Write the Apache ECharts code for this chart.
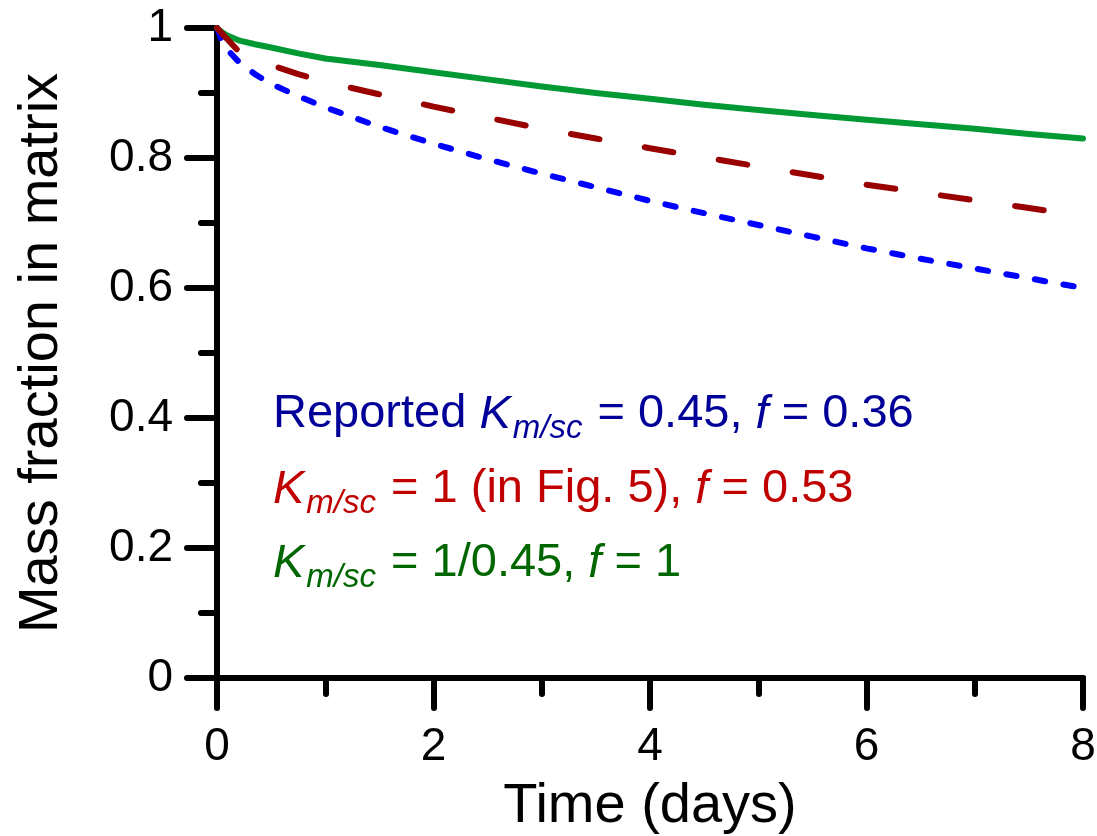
<!DOCTYPE html>
<html>
<head>
<meta charset="utf-8">
<script src="https://cdn.jsdelivr.net/npm/echarts@6/dist/echarts.min.js"></script>
<style>
html,body{margin:0;padding:0;background:#fff;}
#chart{width:1097px;height:836px;}
</style>
</head>
<body>
<div id="chart"></div>
<script>
// ---- data ----
const timeDays = [0, 0.05, 0.1, 0.2, 0.35, 0.5, 0.75, 1, 1.5, 2, 2.5, 3, 3.5, 4, 4.5, 5, 5.5, 6, 6.5, 7, 7.5, 8];
const reportedVals = [1.0, 0.978, 0.966, 0.948, 0.929, 0.914, 0.895, 0.878, 0.848, 0.822, 0.798, 0.776, 0.755, 0.734, 0.715, 0.697, 0.679, 0.661, 0.645, 0.630, 0.615, 0.600];
const fig5Vals = [1.0, 0.991, 0.982, 0.964, 0.952, 0.943, 0.929, 0.917, 0.898, 0.879, 0.862, 0.845, 0.830, 0.815, 0.801, 0.787, 0.773, 0.759, 0.747, 0.735, 0.723, 0.711];
const invVals = [1.0, 0.993, 0.988, 0.981, 0.975, 0.970, 0.961, 0.953, 0.943, 0.932, 0.921, 0.910, 0.900, 0.891, 0.882, 0.874, 0.866, 0.859, 0.852, 0.845, 0.837, 0.830];
const xTicks = [0, 2, 4, 6, 8];
const yTicks = [0, 0.2, 0.4, 0.6, 0.8, 1];
const xTitle = 'Time (days)';
const yTitle = 'Mass fraction in matrix';

const pairs = (xs, ys) => xs.map((x, i) => [x, ys[i]]);
const FONT = '"Liberation Sans", Arial, sans-serif';

const chart = echarts.init(document.getElementById('chart'), null, {renderer: 'canvas'});

const richStyle = (color) => ({
  n: {fontSize: 47, lineHeight: 47, verticalAlign: 'top', fill: color, color: color, fontFamily: FONT},
  i: {fontSize: 47, lineHeight: 47, verticalAlign: 'top', fill: color, color: color, fontFamily: FONT, fontStyle: 'italic'},
  s: {fontSize: 33, lineHeight: 33, verticalAlign: 'top', padding: [21, 2, 0, 2], fill: color, color: color, fontFamily: FONT, fontStyle: 'italic'}
});
const legendText = (text, color, top) => ({
  type: 'text', left: 273, top: top, z: 10,
  style: {text: text, fill: color, rich: richStyle(color), fontFamily: FONT, fontSize: 47}
});

const option = {
  animation: false,
  backgroundColor: '#fff',
  grid: {left: 217, right: 14, top: 28, bottom: 158, containLabel: false, outerBoundsMode: 'none'},
  xAxis: {
    type: 'value', min: xTicks[0], max: xTicks[xTicks.length - 1], interval: 2,
    name: xTitle, nameLocation: 'middle', nameGap: 101,
    nameTextStyle: {fontSize: 56, color: '#000', fontFamily: FONT},
    axisLine: {show: true, onZero: false, lineStyle: {color: '#000', width: 6, cap: 'round'}},
    axisTick: {show: true, inside: false, length: 30, lineStyle: {color: '#000', width: 6, cap: 'round'}},
    minorTick: {show: true, splitNumber: 2, length: 16, lineStyle: {color: '#000', width: 6, cap: 'round'}},
    splitLine: {show: false},
    axisLabel: {fontSize: 46, color: '#000', margin: 46, fontFamily: FONT}
  },
  yAxis: {
    type: 'value', min: yTicks[0], max: yTicks[yTicks.length - 1], interval: 0.2,
    name: yTitle, nameLocation: 'middle', nameGap: 147, nameRotate: 90,
    nameTextStyle: {fontSize: 56, color: '#000', fontFamily: FONT},
    axisLine: {show: true, onZero: false, lineStyle: {color: '#000', width: 6, cap: 'round'}},
    axisTick: {show: true, inside: false, length: 30, lineStyle: {color: '#000', width: 6, cap: 'round'}},
    minorTick: {show: true, splitNumber: 2, length: 16, lineStyle: {color: '#000', width: 6, cap: 'round'}},
    splitLine: {show: false},
    axisLabel: {fontSize: 46, color: '#000', margin: 44, fontFamily: FONT,
      formatter: v => String(Math.round(v * 10) / 10)}
  },
  series: [
    {type: 'line', name: 'reported', data: pairs(timeDays, reportedVals), showSymbol: false, symbol: 'none',
      lineStyle: {color: '#0000ff', width: 6, type: [10.5, 18.5], cap: 'round', join: 'round'}, z: 2},
    {type: 'line', name: 'inverse', data: pairs(timeDays, invVals), showSymbol: false, symbol: 'none',
      lineStyle: {color: '#009933', width: 6, type: 'solid', cap: 'round', join: 'round'}, z: 3},
    {type: 'line', name: 'fig5', data: pairs(timeDays, fig5Vals), showSymbol: false, symbol: 'none',
      lineStyle: {color: '#990000', width: 6, type: [29, 46], cap: 'round', join: 'round'}, z: 4}
  ],
  graphic: [
    legendText('{n|Reported }{i|K}{s|m/sc}{n| = 0.45, }{i|f}{n| = 0.36}', '#000099', 391),
    legendText('{i|K}{s|m/sc}{n| = 1 (in Fig. 5), }{i|f}{n| = 0.53}', '#c00000', 466),
    legendText('{i|K}{s|m/sc}{n| = 1/0.45, }{i|f}{n| = 1}', '#006600', 540)
  ]
};
chart.setOption(option);
</script>
</body>
</html>
